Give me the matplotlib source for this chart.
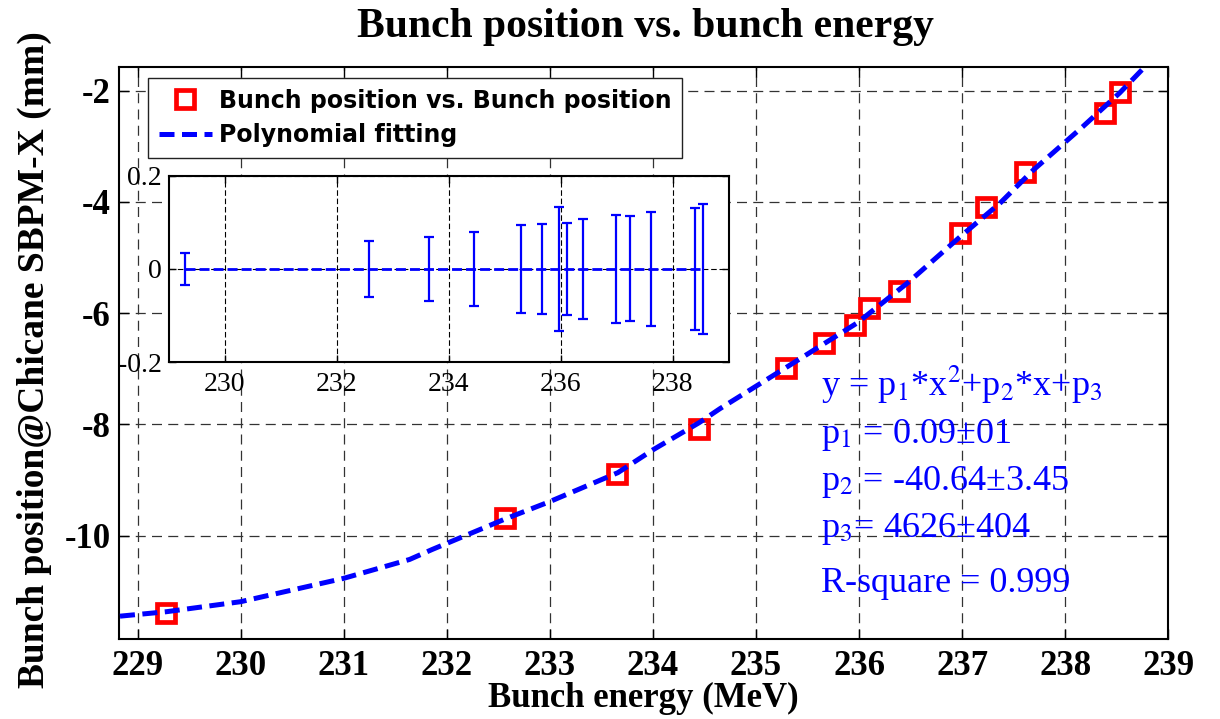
import matplotlib
matplotlib.use("Agg")
import matplotlib.pyplot as plt

# Medidas del haz: energía (MeV) y posición en el SBPM-X del chicane (mm)
energia = [229.28, 232.57, 233.65, 234.45, 235.29, 235.66, 235.96,
           236.10, 236.39, 236.98, 237.23, 237.61, 238.39, 238.53]
posicion = [-11.39, -9.69, -8.89, -8.09, -6.99, -6.54, -6.21,
            -5.91, -5.60, -4.56, -4.10, -3.46, -2.40, -2.02]

# Curva del ajuste polinómico
ajuste_x = [228.83, 229.28, 230.00, 231.00, 231.64, 231.86, 232.57, 233.00,
            233.66, 234.00, 234.45, 234.65, 235.30, 235.98, 236.47, 236.98,
            237.37, 237.69, 238.17, 238.53, 238.80]
ajuste_y = [-11.45, -11.37, -11.19, -10.77, -10.43, -10.25, -9.70, -9.39,
            -8.87, -8.46, -7.97, -7.72, -6.97, -6.18, -5.46, -4.63,
            -4.02, -3.43, -2.65, -2.04, -1.52]

# Residuos del ajuste y sus barras de error
residuo = [0, 0, 0, 0, 0, 0, 0, 0, 0, 0, 0, 0, 0, 0]
error = [0.034, 0.060, 0.068, 0.079, 0.094, 0.096, 0.133,
         0.099, 0.108, 0.116, 0.113, 0.122, 0.131, 0.139]

ticks_x = [229, 230, 231, 232, 233, 234, 235, 236, 237, 238, 239]
ticks_y = [-10, -8, -6, -4, -2]
ticks_x_res = [230, 232, 234, 236, 238]
ticks_y_res = [-0.2, 0, 0.2]

textos_ajuste = [
    ("y = p$_1$*x$^2$+p$_2$*x+p$_3$", -7.50),
    ("p$_1$ = 0.09\u00b101", -8.34),
    ("p$_2$ = -40.64\u00b13.45", -9.18),
    ("p$_3$= 4626\u00b1404", -10.02),
    ("R-square = 0.999", -11.01),
]

plt.rcParams["font.family"] = ["Liberation Serif", "DejaVu Serif"]
plt.rcParams["mathtext.fontset"] = "stix"
plt.rcParams["axes.unicode_minus"] = False

fig = plt.figure(figsize=(12.2, 7.19), dpi=100)
ax = fig.add_axes([0.0975, 0.1113, 0.8601, 0.796])

ax.plot(energia, posicion, "s", ms=13.5, mfc="none", mec="red", mew=3.4,
        label="Bunch position vs. Bunch position", zorder=3)
ax.plot(ajuste_x, ajuste_y, color="blue", lw=3.6, ls=(0, (3, 1.5)),
        label="Polynomial fitting", zorder=4)

ax.set_xlim(228.82, 239)
ax.set_ylim(-11.86, -1.57)
ax.set_xticks(ticks_x)
ax.set_yticks(ticks_y)
ax.tick_params(direction="in", top=True, right=True, length=7, width=1,
               labelsize=25)
ax.tick_params(axis="x", pad=8)
ax.tick_params(axis="y", pad=6)
for lab in ax.get_xticklabels() + ax.get_yticklabels():
    lab.set_fontweight("bold")
ax.grid(True, color="#333333", lw=0.9, ls=(0, (8, 5)))
for s in ax.spines.values():
    s.set_linewidth(1.5)

for texto, yb in textos_ajuste:
    ax.text(235.63, yb, texto, color="blue", fontsize=26, va="baseline",
            ha="left", zorder=5)

leg = ax.legend(loc="upper left", bbox_to_anchor=(0.0276, 0.980),
                borderaxespad=0, fancybox=False, framealpha=1,
                edgecolor="#222222", borderpad=0.45, labelspacing=0.45,
                handlelength=2.25, handletextpad=0.3,
                prop={"family": "DejaVu Sans", "weight": "bold", "size": 17})
leg.get_frame().set_linewidth(1.0)

fig.text(0.5287, 0.9485, "Bunch position vs. bunch energy", fontsize=30,
         fontweight="bold", ha="center", va="baseline")
fig.text(0.5275, 0.0167, "Bunch energy (MeV)", fontsize=25,
         fontweight="bold", ha="center", va="baseline")
fig.text(0.0285, 0.50, "Bunch position@Chicane SBPM-X (mm)", fontsize=27,
         fontweight="bold", ha="center", va="center", rotation=90)

# Recuadro con los residuos del ajuste
axr = fig.add_axes([0.1385, 0.4965, 0.459, 0.2591])
axr.errorbar(energia, residuo, yerr=error, color="blue", lw=2.0,
             ls=(0, (3.6, 1.45)), elinewidth=1.6, capsize=3.5, capthick=1.6)
axr.set_xlim(229, 239)
axr.set_ylim(-0.2, 0.2)
axr.set_xticks(ticks_x_res)
axr.set_yticks(ticks_y_res)
axr.set_yticklabels(["-0.2", "0", "0.2"])
axr.tick_params(direction="in", top=True, right=True, length=5, width=1,
                labelsize=20)
axr.tick_params(axis="x", pad=7)
axr.tick_params(axis="y", pad=5)
axr.grid(True, color="black", lw=0.8, ls=(0, (5, 2.5)))
for s in axr.spines.values():
    s.set_linewidth(1.5)

fig.savefig("out.png", dpi=100)
